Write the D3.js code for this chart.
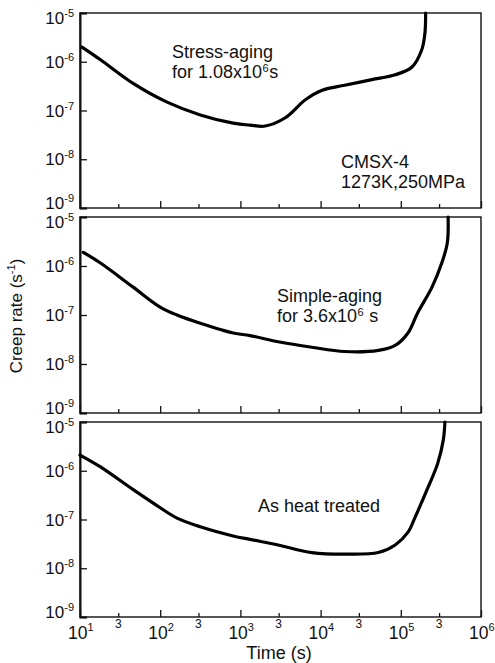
<!DOCTYPE html>
<html>
<head>
<meta charset="utf-8">
<script src="https://cdn.jsdelivr.net/npm/d3@7"></script>
<style>
  html, body { margin: 0; padding: 0; background: #fff; }
  svg { display: block; font-family: "Liberation Sans", Arial, Helvetica, sans-serif; }
</style>
</head>
<body>
<svg id="chart" width="495" height="663"></svg>
<script>
// ---------- data (time in s, creep rate in 1/s) ----------
const stressTime = [10.6, 18, 46, 120, 316, 813, 1318, 2042, 3631, 6457, 10470, 19950, 43650, 85110, 138000, 182000, 200000, 204000];
const stressRate = [2.0e-6, 1.1e-6, 3.6e-7, 1.5e-7, 8.1e-8, 5.5e-8, 5.0e-8, 4.8e-8, 7.1e-8, 1.66e-7, 2.6e-7, 3.3e-7, 4.3e-7, 5.4e-7, 7.8e-7, 1.74e-6, 3.9e-6, 1.0e-5];

const simpleTime = [11, 18, 46, 100, 162, 316, 813, 1318, 2951, 7762, 19950, 52480, 85110, 123000, 162000, 245000, 324000, 380000, 389000];
const simpleRate = [1.9e-6, 1.15e-6, 3.7e-7, 1.45e-7, 1.0e-7, 6.8e-8, 4.3e-8, 3.8e-8, 2.85e-8, 2.2e-8, 1.8e-8, 1.9e-8, 2.4e-8, 4.3e-8, 1.1e-7, 3.7e-7, 1.15e-6, 2.95e-6, 1.0e-5];

const heatTime = [10, 18, 46, 100, 162, 316, 813, 1318, 2951, 7762, 19950, 52480, 85110, 123000, 151000, 219000, 288000, 339000, 355000];
const heatRate = [2.1e-6, 1.2e-6, 4.1e-7, 1.74e-7, 1.07e-7, 7.1e-8, 4.6e-8, 3.9e-8, 3.0e-8, 2.1e-8, 1.95e-8, 2.1e-8, 3.0e-8, 5.5e-8, 1.12e-7, 4.6e-7, 1.4e-6, 4.3e-6, 1.0e-5];

const yTickValues = [1e-5, 1e-6, 1e-7, 1e-8, 1e-9];
const xMajorTicks = [1e1, 1e2, 1e3, 1e4, 1e5, 1e6];
const xMinorTicks = [3e1, 3e2, 3e3, 3e4, 3e5];
const xMinorLabel = "3";
const xTitle = "Time (s)";
const yTitle = "Creep rate (s";

// ---------- layout ----------
const svg = d3.select("#chart");
const left = 80, right = 481;
const panels = [
  { top: 13, bottom: 208, time: stressTime, rate: stressRate,
    notes: [
      { x: 172, y: 58, parts: [["Stress-aging", false]] },
      { x: 172, y: 78, parts: [["for 1.08x10", false], ["6", true], ["s", false]] },
      { x: 341, y: 168, parts: [["CMSX-4", false]] },
      { x: 341, y: 188, parts: [["1273K,250MPa", false]] }
    ] },
  { top: 217, bottom: 413, time: simpleTime, rate: simpleRate,
    notes: [
      { x: 277, y: 302, parts: [["Simple-aging", false]] },
      { x: 277, y: 322, parts: [["for 3.6x10", false], ["6", true], [" s", false]] }
    ] },
  { top: 422, bottom: 617, time: heatTime, rate: heatRate,
    notes: [
      { x: 258, y: 512, parts: [["As heat treated", false]] }
    ] }
];

const x = d3.scaleLog().domain([10, 1e6]).range([left, right]);
const ink = "#111";

panels.forEach((p, i) => {
  const y = d3.scaleLog().domain([1e-9, 1e-5]).range([p.bottom, p.top]);
  const g = svg.append("g");

  // frame
  g.append("rect")
    .attr("x", left).attr("y", p.top)
    .attr("width", right - left).attr("height", p.bottom - p.top)
    .attr("fill", "none").attr("stroke", ink).attr("stroke-width", 1.4);

  // left axis (inward ticks)
  const yAxis = d3.axisRight(y).tickValues(yTickValues).tickSize(7).tickFormat("");
  g.append("g").attr("transform", `translate(${left},0)`).call(yAxis)
    .call(s => s.select(".domain").attr("stroke", ink).attr("stroke-width", 2))
    .call(s => s.selectAll(".tick line").attr("stroke", ink).attr("stroke-width", 1.3));

  // y tick labels
  yTickValues.forEach(v => {
    const e = Math.round(Math.log10(v));
    const off = e === -5 ? 11 : (e === -9 ? 1 : 6);
    const t = g.append("text")
      .attr("x", 74).attr("y", y(v) + off)
      .attr("text-anchor", "end")
      .attr("font-size", 17).attr("fill", ink);
    t.append("tspan").text("10");
    t.append("tspan").text(String(e)).attr("font-size", 11).attr("dy", -7);
  });

  // bottom axis (inward ticks)
  const xAxisMajor = d3.axisTop(x).tickValues(xMajorTicks).tickSize(7).tickFormat("");
  g.append("g").attr("transform", `translate(0,${p.bottom})`).call(xAxisMajor)
    .call(s => s.select(".domain").remove())
    .call(s => s.selectAll(".tick line").attr("stroke", ink).attr("stroke-width", 1.3));
  const xAxisMinor = d3.axisTop(x).tickValues(xMinorTicks).tickSize(4).tickFormat("");
  g.append("g").attr("transform", `translate(0,${p.bottom})`).call(xAxisMinor)
    .call(s => s.select(".domain").remove())
    .call(s => s.selectAll(".tick line").attr("stroke", ink).attr("stroke-width", 1.3));

  // curve
  const data = p.time.map((t, k) => [t, p.rate[k]]);
  g.append("path")
    .datum(data)
    .attr("fill", "none").attr("stroke", "#000")
    .attr("stroke-width", 3.2).attr("stroke-linejoin", "round").attr("stroke-linecap", "round")
    .attr("d", d3.line().x(d => x(d[0])).y(d => y(d[1])).curve(d3.curveCatmullRom.alpha(0.5)));

  // notes
  p.notes.forEach(n => {
    const t = g.append("text").attr("x", n.x).attr("y", n.y)
      .attr("font-size", 18).attr("fill", ink);
    let lifted = false;
    n.parts.forEach(([s, sup]) => {
      const ts = t.append("tspan").text(s);
      if (sup) { ts.attr("font-size", 11).attr("dy", -6).attr("dx", 0.5); lifted = true; }
      else if (lifted) { ts.attr("dy", 6).attr("dx", 0.5); lifted = false; }
    });
  });

  // x tick labels only on bottom panel
  if (i === panels.length - 1) {
    xMajorTicks.forEach(v => {
      const e = Math.round(Math.log10(v));
      const t = g.append("text")
        .attr("x", x(v) - 12).attr("y", p.bottom + 22)
        .attr("font-size", 17.5).attr("fill", ink);
      t.append("tspan").text("10");
      t.append("tspan").text(String(e)).attr("font-size", 11).attr("dy", -8);
    });
    xMinorTicks.forEach(v => {
      g.append("text")
        .attr("x", x(v)).attr("y", p.bottom + 11)
        .attr("text-anchor", "middle")
        .attr("font-size", 12).attr("fill", ink)
        .text(xMinorLabel);
    });
  }
});

// axis titles
svg.append("text")
  .attr("x", 279).attr("y", 659)
  .attr("text-anchor", "middle")
  .attr("font-size", 18).attr("fill", ink)
  .text(xTitle);

const yt = svg.append("text")
  .attr("transform", "translate(22,316) rotate(-90)")
  .attr("text-anchor", "middle")
  .attr("font-size", 17).attr("fill", ink);
yt.append("tspan").text(yTitle);
yt.append("tspan").text("-1").attr("font-size", 11).attr("dy", -7);
yt.append("tspan").text(")").attr("dy", 7);
</script>
</body>
</html>
